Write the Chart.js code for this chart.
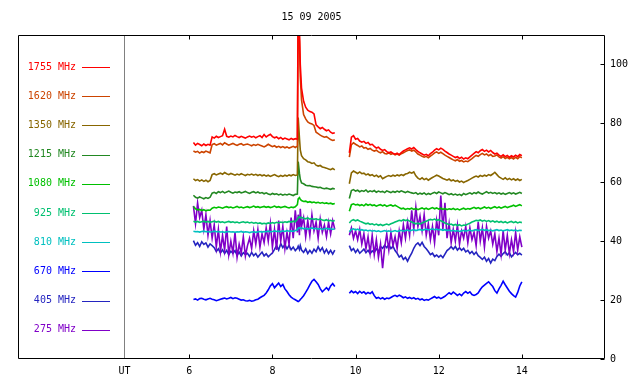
<!DOCTYPE html>
<html>
<head>
<meta charset="utf-8">
<script src="https://cdn.jsdelivr.net/npm/chart.js@4/dist/chart.umd.min.js"></script>
<style>
html,body{margin:0;padding:0;background:#fff;}
canvas{display:block;}
</style>
</head>
<body>
<canvas id="c" width="640" height="384"></canvas>
<script>
// ---------- data ----------
const title = '15 09 2005';
const xTickHours = [6, 8, 10, 12, 14];
const yTicks = [0, 20, 40, 60, 80, 100];
const utLabel = 'UT';
const utHour = 4.44;

const hours = [
6.10,6.15,6.20,6.25,6.30,6.35,6.40,6.45,6.50,6.55,
6.60,6.65,6.70,6.75,6.80,6.85,6.90,6.95,7.00,7.05,
7.10,7.15,7.20,7.25,7.30,7.35,7.40,7.45,7.50,7.55,
7.60,7.65,7.70,7.75,7.80,7.85,7.90,7.95,8.00,8.05,
8.10,8.15,8.20,8.25,8.30,8.35,8.40,8.45,8.50,8.55,
8.60,8.62,8.65,8.67,8.70,8.75,8.80,8.85,8.90,8.95,
9.00,9.05,9.10,9.15,9.20,9.25,9.30,9.35,9.40,9.45,
9.50,
9.70,
9.85,9.90,9.95,10.00,10.05,10.10,10.15,10.20,10.25,10.30,
10.35,10.40,10.45,10.50,10.55,10.60,10.65,10.70,10.75,10.80,
10.85,10.90,10.95,11.00,11.05,11.10,11.15,11.20,11.25,11.30,
11.35,11.40,11.45,11.50,11.55,11.60,11.65,11.70,11.75,11.80,
11.85,11.90,11.95,12.00,12.05,12.10,12.15,12.20,12.25,12.30,
12.35,12.40,12.45,12.50,12.55,12.60,12.65,12.70,12.75,12.80,
12.85,12.90,12.95,13.00,13.05,13.10,13.15,13.20,13.25,13.30,
13.35,13.40,13.45,13.50,13.55,13.60,13.65,13.70,13.75,13.80,
13.85,13.90,13.95,14.00
];

const f1755 = [
73.5,72.6,73.2,72.8,72.4,73.0,72.5,72.9,72.6,75.4,
75.0,75.6,75.2,75.5,75.8,78.0,75.6,75.3,75.7,75.4,
75.9,75.5,75.2,75.6,75.3,75.0,75.4,75.7,75.3,75.6,
75.1,75.5,75.8,75.2,76.2,75.4,75.9,76.3,75.5,75.1,
75.4,74.8,75.2,74.6,75.0,74.7,74.4,74.9,74.5,74.8,
74.6,125,112,100,92,87.5,85.5,84.5,84.0,83.8,
83.2,79.5,78.8,78.2,78.6,78.0,77.5,77.8,77.0,76.6,
76.8,
null,
70.0,75.3,75.8,74.6,74.9,74.0,73.6,73.9,73.2,73.5,
72.7,72.9,72.2,71.6,71.9,71.2,70.8,71.1,70.4,70.0,
70.3,69.8,69.5,69.9,69.4,70.1,70.6,71.0,71.4,71.7,
71.3,71.8,71.1,70.5,70.0,69.6,69.2,69.5,69.0,69.7,
70.2,70.9,71.4,71.0,71.6,71.2,70.6,70.1,69.6,69.2,
68.8,68.4,68.7,68.1,68.5,67.9,68.3,68.0,68.6,69.2,
69.8,70.4,70.0,70.7,71.1,70.5,70.9,70.3,70.8,70.1,
69.6,69.9,69.2,68.8,69.3,68.7,69.1,68.5,69.0,68.6,
69.2,68.7,69.4,69.0
];

const f1620 = [
70.6,70.2,70.5,69.9,70.4,70.1,70.6,70.3,70.0,72.8,
73.1,72.6,72.9,73.2,72.7,73.4,73.0,72.6,72.9,73.2,
72.8,72.5,72.9,73.1,72.6,72.8,73.0,72.7,72.4,72.8,
72.5,72.9,72.6,72.3,72.0,72.4,72.9,72.5,72.1,72.4,
71.9,72.2,71.8,72.1,71.7,72.0,71.6,71.9,72.2,71.8,
72.3,115,108,96,88,83.0,81.5,80.5,80.0,79.8,
79.3,77.0,76.5,76.0,75.6,75.3,75.5,75.0,74.5,74.2,
74.4,
null,
68.5,72.8,73.4,72.9,72.5,72.0,72.3,71.6,71.8,71.2,
71.5,70.9,70.6,70.9,70.3,70.0,70.4,69.8,69.6,70.0,
69.5,69.8,69.3,69.6,69.2,69.7,70.0,70.4,70.8,71.0,
70.6,70.9,70.3,69.6,69.2,68.8,68.5,68.8,68.3,68.9,
69.4,70.0,70.3,69.8,70.2,69.7,69.2,68.8,68.4,68.0,
67.6,67.3,67.7,67.1,67.4,66.9,67.2,67.0,67.5,68.0,
68.6,69.1,68.8,69.4,69.8,69.3,69.6,69.0,69.4,68.8,
68.9,69.3,68.6,68.2,68.7,68.1,68.5,68.0,68.4,67.9,
68.5,68.0,68.7,68.3
];

const f1350 = [
61.2,60.6,60.9,60.4,60.8,60.3,60.7,60.2,60.6,62.6,
62.9,62.5,62.8,63.1,62.7,63.3,62.9,62.6,63.0,62.7,
62.4,62.8,62.5,62.9,62.6,62.3,62.7,62.5,62.8,62.4,
62.7,62.3,62.6,62.2,62.5,62.1,62.4,62.0,62.3,62.6,
62.2,61.9,62.3,62.0,62.4,62.1,62.5,62.2,62.6,62.3,
62.5,82,75,71,69,68.0,67.6,67.0,66.8,66.4,
66.6,65.8,65.5,65.7,65.2,65.0,64.8,64.5,64.3,64.7,
64.2,
null,
59.5,63.2,63.8,63.4,63.0,63.5,62.9,63.1,62.5,62.8,
62.3,62.6,62.0,62.4,61.8,62.2,61.2,61.6,62.0,62.3,
62.0,62.4,62.1,62.5,62.2,62.6,62.3,62.8,63.0,63.4,
63.1,63.5,62.2,61.4,61.0,61.5,60.9,61.3,60.7,61.2,
61.6,62.0,62.4,62.1,61.7,61.3,61.0,60.7,61.1,60.5,
60.8,60.3,60.6,60.1,60.4,59.9,60.3,60.6,61.0,61.4,
61.8,62.1,61.8,62.3,62.0,62.4,62.1,62.6,62.3,62.8,
63.4,62.6,61.8,61.4,61.0,61.5,60.9,61.3,60.8,61.2,
60.7,61.1,60.6,61.0
];

const f1215 = [
55.6,54.9,54.6,55.0,54.7,54.4,54.8,54.5,54.9,56.3,
56.6,56.2,56.8,56.5,56.9,56.4,56.7,57.0,56.6,56.3,
56.7,56.5,56.8,56.4,56.6,56.9,56.5,56.2,56.6,56.8,
56.4,56.7,56.3,56.5,56.1,56.4,56.0,55.8,56.2,55.9,
56.1,55.7,56.0,55.6,55.9,55.7,56.0,55.8,55.5,55.9,
56.0,67,63,61,59.8,59.5,59.0,58.8,58.9,58.6,
58.5,58.4,58.2,58.3,58.0,57.8,58.0,57.8,57.6,57.9,
57.7,
null,
54.5,57.2,57.5,57.0,57.3,56.8,57.2,56.9,57.4,56.7,
57.1,56.8,57.2,56.6,57.0,56.7,56.9,56.5,57.1,56.8,
56.5,56.9,56.6,57.0,56.7,57.1,56.8,56.5,56.9,56.6,
56.4,56.2,56.5,55.9,56.3,56.0,56.4,55.8,56.2,55.9,
56.3,56.6,56.2,56.7,56.4,56.1,56.5,56.2,55.8,56.1,
55.7,56.0,55.6,55.9,55.5,56.2,55.8,56.1,56.4,56.0,
56.5,56.2,56.7,56.3,56.0,56.4,56.8,56.3,56.6,56.2,
56.5,56.1,56.4,56.0,56.3,55.9,56.2,56.5,56.1,56.4,
56.0,56.3,56.6,56.2
];

const f1080 = [
51.8,51.0,50.6,50.8,50.4,50.7,50.3,50.6,50.5,51.2,
51.5,51.3,51.6,51.4,51.2,51.5,51.7,51.4,51.6,51.3,
51.5,51.8,51.4,51.6,51.3,51.5,51.7,51.4,51.6,51.9,
51.5,51.7,51.4,51.6,51.8,51.5,51.7,51.4,51.6,51.9,
51.5,51.7,51.4,51.6,51.8,51.5,51.3,51.6,51.4,51.7,
52.4,54.4,54.8,54.2,53.8,53.5,53.6,53.2,53.4,53.1,
53.3,53.0,53.2,52.9,53.1,52.8,53.0,52.7,52.9,52.6,
52.8,
null,
50.2,52.4,52.7,52.3,52.5,52.1,52.4,52.0,52.6,52.2,
52.5,52.1,52.3,51.9,52.2,52.4,52.0,52.3,51.8,52.1,
52.3,51.9,52.2,51.8,51.4,51.0,51.2,50.8,51.1,50.9,
51.2,50.8,51.1,50.7,51.0,51.3,50.9,51.2,50.8,51.1,
51.4,51.0,51.3,50.9,51.2,50.8,51.1,50.7,51.0,50.8,
51.1,50.7,51.0,50.6,50.9,51.2,50.8,51.1,50.9,51.2,
51.5,51.1,51.4,51.0,51.3,51.6,51.2,51.5,51.1,51.4,
51.7,51.3,51.6,51.2,51.5,51.8,51.4,51.7,51.9,52.2,
51.8,52.1,52.4,52.0
];

const f925 = [
46.8,46.5,46.7,46.4,46.6,46.8,46.5,46.7,46.4,46.6,
46.8,46.5,46.7,46.4,46.6,46.3,46.5,46.7,46.4,46.6,
46.3,46.5,46.2,46.4,46.6,46.3,46.5,46.2,46.4,46.1,
46.3,46.0,46.2,45.9,46.1,45.9,46.2,46.0,46.3,46.1,
46.4,46.2,46.5,46.3,46.6,46.4,46.7,46.5,46.8,46.6,
47.4,48.0,48.3,47.9,48.1,47.8,47.6,47.9,47.5,47.7,
47.4,47.6,47.3,47.5,47.2,47.0,47.3,46.9,47.1,46.8,
47.0,
null,
46.2,47.0,47.3,46.9,47.2,46.8,46.5,46.2,45.9,46.1,
45.7,45.9,45.5,45.8,45.4,45.7,45.3,45.6,45.8,45.5,
45.9,46.2,46.5,46.8,47.1,46.9,47.3,47.0,47.2,46.8,
46.5,46.2,45.9,46.1,45.8,46.2,46.5,46.8,47.1,47.4,
47.2,47.5,47.1,47.3,46.9,46.6,46.2,45.9,45.6,45.8,
45.4,45.7,45.3,45.6,45.2,45.5,45.4,45.8,46.1,46.5,
46.8,47.1,46.9,47.2,46.8,47.1,46.7,47.0,46.6,46.9,
46.5,46.8,46.4,46.7,46.3,46.6,46.2,46.5,46.7,46.3,
46.6,46.2,46.5,46.3
];

const f810 = [
43.4,43.2,43.3,43.1,43.3,43.4,43.2,43.3,43.1,43.2,
43.4,43.2,43.3,43.1,43.2,43.0,43.2,43.3,43.1,43.2,
43.0,43.2,43.1,43.3,43.0,43.2,43.1,42.9,43.1,43.2,
43.0,43.2,43.3,43.1,43.3,43.2,43.4,43.2,43.3,43.5,
43.3,43.4,43.2,43.5,43.3,43.6,43.4,43.5,43.3,43.6,
43.8,44.4,44.6,44.3,44.5,44.2,44.4,44.1,44.3,44.5,
44.2,44.4,44.1,44.3,44.0,44.2,44.4,44.1,44.3,44.0,
44.2,
null,
43.2,44.0,44.2,43.8,44.1,43.7,43.9,43.6,43.8,43.5,
43.7,43.4,43.6,43.3,43.5,43.2,43.4,43.6,43.3,43.5,
43.2,43.4,43.6,43.3,43.5,43.7,43.4,43.6,43.8,43.5,
43.7,43.9,43.6,43.8,44.0,43.7,43.9,44.1,43.8,44.0,
44.2,43.9,44.1,43.8,44.0,43.7,43.9,43.6,43.8,43.5,
43.7,43.4,43.6,43.3,43.5,43.7,43.4,43.6,43.8,43.5,
43.7,43.9,43.6,43.8,44.0,43.7,43.9,43.6,43.8,43.5,
43.7,43.9,43.6,43.8,43.5,43.7,43.9,43.6,43.8,43.6,
43.8,43.5,43.7,43.6
];

const f670 = [
20.2,20.4,20.0,20.5,20.6,20.3,20.1,20.4,20.6,20.3,
20.1,19.8,20.0,20.3,20.5,20.7,20.4,20.6,20.9,20.5,
20.8,20.6,20.3,20.0,20.1,19.8,19.7,19.9,19.6,19.8,
20.1,20.3,20.8,21.2,21.6,22.4,23.5,24.8,25.6,24.2,
25.0,25.8,24.6,25.3,23.8,22.9,21.8,21.0,20.5,20.1,
19.7,19.5,19.8,20.2,20.6,21.5,22.6,23.8,25.2,26.4,
27.0,26.2,25.3,23.9,22.8,23.5,24.2,23.4,24.8,25.6,
24.6,
null,
22.3,23.1,22.5,22.9,22.2,23.0,22.4,22.8,22.1,22.6,
22.2,22.8,21.5,20.6,20.9,20.4,20.8,20.3,20.7,20.5,
20.9,21.3,21.6,21.2,21.7,21.3,20.8,21.1,20.6,20.9,
20.5,20.8,20.3,20.6,20.1,20.4,19.9,20.2,20.0,20.4,
20.8,21.2,20.7,21.0,20.5,20.9,21.3,21.9,22.5,22.0,
22.7,22.2,21.6,22.1,21.5,22.4,22.9,22.3,22.8,21.9,
21.6,21.9,22.4,23.6,24.5,25.1,25.7,26.2,25.4,24.6,
23.2,22.4,23.8,25.0,26.4,25.2,24.1,23.0,22.2,21.5,
21.0,22.6,24.8,26.2
];

const f405 = [
40.2,38.6,39.5,38.2,39.8,38.9,39.4,38.0,39.1,38.5,
37.8,36.5,37.4,36.0,37.1,35.8,36.9,35.4,36.6,35.9,
36.8,35.2,36.3,35.0,36.1,35.5,35.9,34.8,36.2,35.1,
35.8,34.6,35.5,36.3,35.0,35.7,34.7,35.4,36.0,37.2,
38.5,37.0,39.2,37.8,38.9,37.4,38.6,37.1,38.0,36.8,
37.6,38.3,37.2,38.5,37.0,36.2,37.4,35.8,36.9,35.9,
37.3,36.4,38.1,36.7,37.8,36.0,37.2,35.8,36.9,35.6,
37.0,
null,
38.5,36.8,37.5,36.2,37.2,35.9,36.6,37.3,36.1,36.9,
35.8,36.7,36.2,37.4,36.5,38.2,37.6,38.6,37.8,38.9,
37.5,38.3,36.8,35.9,34.6,35.2,33.8,34.5,33.2,34.7,
35.9,37.6,38.8,39.4,38.5,39.6,38.2,37.4,36.5,35.4,
35.9,34.8,35.3,34.6,35.2,34.4,35.6,36.8,37.4,38.1,
37.3,38.2,37.0,37.8,36.9,37.6,36.4,36.9,35.8,36.5,
35.5,36.3,35.1,34.5,33.8,34.6,33.2,34.1,32.6,33.9,
33.4,34.8,35.6,34.9,35.8,36.4,35.3,36.1,34.7,35.5,
36.2,35.4,35.9,35.3
];

const f275 = [
52,46,53,48,50.5,44,49,42,47,41,
45.5,38,44,36.5,42,37,45,35.5,40,36,
43,34.5,39,36,41.5,35,38.5,41,37.5,43.5,
39,44,38,42.5,39.5,44.5,40,46,38,44,
37,47,40,45,37.5,43,39,48,41,50.5,
43,49,42,51,45,48,41.5,47,42,49,
43.5,46.5,41,47.5,43,45.5,41.5,46.5,42.5,47,
44,
null,
42,44.5,41,43.5,40.5,44,39,42.5,37.5,41.5,
36,42,35.5,40.5,34.5,39,30.8,38,42.5,37,
43,38.5,41.5,37.5,43.5,39.5,45.5,41,46.5,42,
50.5,44,51.5,45,48.5,43.5,49,42,46,40.5,
45,39.5,47,42,55.5,44,53,41,46,39.5,
44,40,45.5,39,43.5,41,45,39.5,44.5,40.5,
43,38.5,46.5,40,44.5,38,45,41,43.5,39,
42.5,36.5,41,35.5,43.5,37,42,35.8,40.5,36.5,
43,37,41.5,38
];

// legend / series list (top to bottom in the legend)
const seriesNames = ['1755 MHz','1620 MHz','1350 MHz','1215 MHz','1080 MHz','925 MHz','810 MHz','670 MHz','405 MHz','275 MHz'];
const seriesValues = [f1755, f1620, f1350, f1215, f1080, f925, f810, f670, f405, f275];
const seriesColors = ['#ff0000','#cc4400','#886600','#228822','#00c000','#00c070','#00c0c0','#0000ff','#2424c0','#8000c8'];
// drawing priority (lower = on top)
const seriesOrder = [0, 1, 2, 3, 4, 5, 6, 9, 8, 7];

const FONT = '"DejaVu Sans Mono", "Liberation Mono", monospace';

const datasets = seriesValues.map((vals, i) => ({
  label: seriesNames[i],
  data: hours.map((h, k) => ({ x: h, y: vals[k] })),
  borderColor: seriesColors[i],
  backgroundColor: seriesColors[i],
  borderWidth: 1.6,
  pointRadius: 0,
  tension: 0,
  spanGaps: false,
  order: seriesOrder[i]
}));

const framePlugin = {
  id: 'framePlugin',
  afterDraw(chart) {
    const { ctx, chartArea: a, scales } = chart;
    const xs = scales.x, ys = scales.y;
    const L = Math.round(a.left) + 0.5, R = Math.round(a.right) - 0.5;
    const T = Math.round(a.top) + 0.5, B = Math.round(a.bottom) - 0.5;
    ctx.save();
    // separator line (UT)
    const ux = Math.round(xs.getPixelForValue(utHour)) + 0.5;
    ctx.strokeStyle = '#808080';
    ctx.lineWidth = 1;
    ctx.beginPath(); ctx.moveTo(ux, T); ctx.lineTo(ux, B); ctx.stroke();
    // frame
    ctx.strokeStyle = '#000';
    ctx.beginPath();
    ctx.moveTo(L, T); ctx.lineTo(R, T); ctx.lineTo(R, B); ctx.lineTo(L, B); ctx.closePath();
    ctx.stroke();
    // inward ticks
    ctx.beginPath();
    xTickHours.forEach(v => {
      const px = Math.round(xs.getPixelForValue(v)) + 0.5;
      ctx.moveTo(px, B); ctx.lineTo(px, B - 4);
      ctx.moveTo(px, T); ctx.lineTo(px, T + 4);
    });
    yTicks.forEach(v => {
      const py = Math.round(ys.getPixelForValue(v)) + 0.5;
      ctx.moveTo(R, py); ctx.lineTo(R - 4, py);
    });
    ctx.stroke();
    // title
    ctx.font = '10px ' + FONT;
    ctx.fillStyle = '#000';
    ctx.textAlign = 'center';
    ctx.textBaseline = 'middle';
    ctx.fillText(title, (a.left + a.right) / 2, 17);
    // legend
    ctx.textAlign = 'right';
    seriesNames.forEach((name, i) => {
      const y = 67 + i * 29.2;
      ctx.fillStyle = seriesColors[i];
      ctx.fillText(name, a.left + 58, y);
      ctx.strokeStyle = seriesColors[i];
      ctx.lineWidth = 1;
      ctx.beginPath();
      const ly = Math.round(y) + 0.5;
      ctx.moveTo(a.left + 64, ly); ctx.lineTo(a.left + 92, ly);
      ctx.stroke();
    });
    ctx.restore();
  }
};

Chart.defaults.font.family = FONT;
Chart.defaults.font.size = 10;
Chart.defaults.color = '#000';

new Chart(document.getElementById('c'), {
  type: 'line',
  data: { datasets },
  options: {
    responsive: false,
    animation: false,
    events: [],
    layout: { padding: { left: 18, top: 35, right: 0, bottom: 0 } },
    plugins: { legend: { display: false }, tooltip: { enabled: false }, title: { display: false } },
    scales: {
      x: {
        type: 'linear',
        position: 'bottom',
        min: 1.88,
        max: 16,
        grid: { display: false, drawTicks: false },
        border: { display: false },
        afterBuildTicks: s => { s.ticks = [utHour, ...xTickHours].map(v => ({ value: v })); },
        afterFit: s => { s.height = 25; },
        ticks: {
          autoSkip: false,
          maxRotation: 0,
          padding: 6,
          font: { size: 10, family: FONT },
          color: '#000',
          callback: v => (v === utHour ? utLabel : String(v))
        }
      },
      y: {
        type: 'linear',
        position: 'right',
        min: 0,
        max: 110,
        grid: { display: false, drawTicks: false },
        border: { display: false },
        afterBuildTicks: s => { s.ticks = yTicks.map(v => ({ value: v })); },
        afterFit: s => { s.width = 35; },
        ticks: {
          padding: 5,
          font: { size: 10, family: FONT },
          color: '#000',
          callback: v => String(v)
        }
      }
    }
  },
  plugins: [framePlugin]
});
</script>
</body>
</html>
